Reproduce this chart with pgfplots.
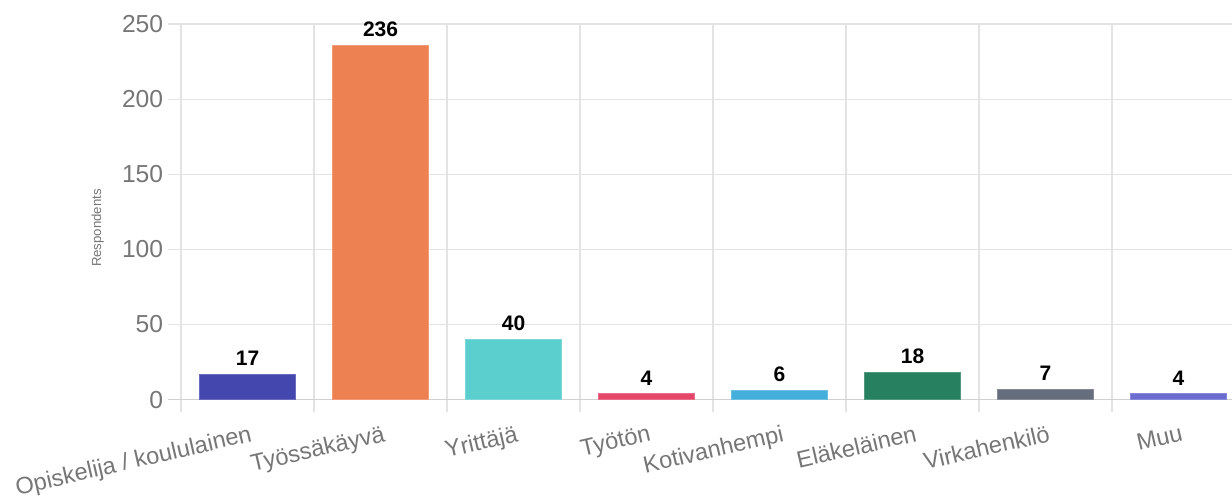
\documentclass[border=0pt]{standalone}
\usepackage{fontspec}
\setmainfont{Liberation Sans}
\usepackage{pgfplots}
\pgfplotsset{compat=1.18}
\definecolor{c1}{HTML}{4447AE}
\definecolor{c2}{HTML}{EE8152}
\definecolor{c3}{HTML}{5BCECE}
\definecolor{c4}{HTML}{E4476A}
\definecolor{c5}{HTML}{45AFDC}
\definecolor{c6}{HTML}{27805F}
\definecolor{c7}{HTML}{666D7C}
\definecolor{c8}{HTML}{6C6BD0}
\definecolor{gridc}{HTML}{E3E3E3}
\definecolor{tickc}{HTML}{767676}
\begin{document}
\begin{tikzpicture}
\begin{axis}[
  name=ax,
  scale only axis,
  width=532pt, height=194pt,
  xmin=-0.598, xmax=7.402,
  ymin=-8.27, ymax=250,
  axis line style={draw=none},
  major tick length=0pt, minor tick length=0pt,
  xtick={0,...,7},
  xticklabels={Opiskelija / koululainen, Työssäkäyvä, Yrittäjä, Työtön, Kotivanhempi, Eläkeläinen, Virkahenkilö, Muu},
  minor xtick={-0.5,0.5,...,6.5},
  xminorgrids, ymajorgrids,
  ytick={0,50,...,250},
  grid style={draw=gridc, line width=0.6pt},
  minor grid style={draw=gridc, line width=0.6pt},
  xticklabel style={font=\fontsize{11.8}{14}\selectfont, text=tickc, rotate=13, anchor=north east, inner sep=0pt, xshift=-0.5pt, yshift=-6pt},
  yticklabel style={font=\fontsize{12.3}{14}\selectfont, text=tickc, anchor=east, inner sep=0pt, xshift=-2.25pt},
  /pgf/number format/assume math mode=true,
  ylabel={Respondents},
  ylabel style={font=\fontsize{6.6}{8}\selectfont, text=tickc, at={(axis description cs:-0.0660,0.474)}, anchor=center},
  nodes near coords,
  every node near coord/.append style={font=\bfseries\fontsize{10.5}{12}\selectfont, text=black, anchor=south, inner sep=0pt, yshift=4pt},
  clip=false,
]
\draw[draw=black!18, line width=0.6pt] (axis cs:-0.598,0) -- (axis cs:7.402,0);
\addplot[ybar, bar width=48pt, fill=c1, draw=c1!80!white, line width=0.5pt] coordinates {(0,17)};
\addplot[ybar, bar width=48pt, fill=c2, draw=c2!80!white, line width=0.5pt] coordinates {(1,236)};
\addplot[ybar, bar width=48pt, fill=c3, draw=c3!80!white, line width=0.5pt] coordinates {(2,40)};
\addplot[ybar, bar width=48pt, fill=c4, draw=c4!80!white, line width=0.5pt] coordinates {(3,4)};
\addplot[ybar, bar width=48pt, fill=c5, draw=c5!80!white, line width=0.5pt] coordinates {(4,6)};
\addplot[ybar, bar width=48pt, fill=c6, draw=c6!80!white, line width=0.5pt] coordinates {(5,18)};
\addplot[ybar, bar width=48pt, fill=c7, draw=c7!80!white, line width=0.5pt] coordinates {(6,7)};
\addplot[ybar, bar width=48pt, fill=c8, draw=c8!80!white, line width=0.5pt] coordinates {(7,4)};
\end{axis}
\pgfresetboundingbox
\path[use as bounding box] ([shift={(-84pt,-45pt)}]ax.south west) rectangle ([shift={(0pt,12pt)}]ax.north east);
\end{tikzpicture}
\end{document}
